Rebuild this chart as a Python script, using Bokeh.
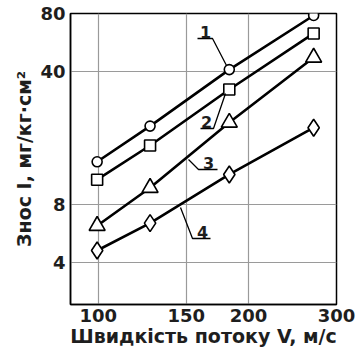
import math
from bokeh.plotting import figure
from bokeh.models import FixedTicker, PrintfTickFormatter
from bokeh.core.properties import value
from bokeh.embed import file_html
from bokeh.resources import INLINE

# ---- data ----
velocity = [99.5, 127, 183, 270]          # V, m/s
wear_1 = [13.4, 20.6, 40.7, 78.1]
wear_2 = [10.8, 16.3, 32.0, 62.9]
wear_3 = [6.2, 9.8, 21.5, 47.1]
wear_4 = [4.6, 6.4, 11.5, 20.2]
x_ticks = [100, 150, 200, 300]
y_ticks = [4, 8, 40, 80]
series_labels = ["1", "2", "3", "4"]

X0, X1 = 88, 300
Y0, Y1 = 2.4, 80
FONT = "DejaVu Sans"
TXT = "#1e1e1e"

p = figure(frame_width=266, frame_height=291, x_axis_type="log", y_axis_type="log",
           x_range=(X0, X1), y_range=(Y0, Y1),
           output_backend="svg", toolbar_location=None,
           min_border_left=70, min_border_right=20,
           min_border_top=13, min_border_bottom=46)

p.outline_line_color = "black"
p.outline_line_width = 1.5
p.background_fill_color = "white"
p.border_fill_color = "white"

for ax, ticks in ((p.xaxis, x_ticks), (p.yaxis, y_ticks)):
    ax.ticker = FixedTicker(ticks=ticks)
    ax.formatter = PrintfTickFormatter(format="%d")
    ax.major_tick_out = 0
    ax.major_tick_in = 0
    ax.minor_tick_out = 0
    ax.minor_tick_in = 0
    ax.axis_line_color = "black"
    ax.axis_line_width = 1.5
    ax.major_label_text_font = FONT
    ax.major_label_text_font_style = "bold"
    ax.major_label_text_font_size = "18px"
    ax.major_label_text_color = TXT
    ax.axis_label_text_font = FONT
    ax.axis_label_text_font_style = "bold"
    ax.axis_label_text_color = TXT

p.xaxis.axis_label = "Швидкість потоку V, м/с"
p.yaxis.axis_label = "Знос I, мг/кг·см²"
p.xaxis.axis_label_text_font_size = "19px"
p.yaxis.axis_label_text_font_size = "19px"
p.xaxis.major_label_standoff = 4
p.yaxis.major_label_standoff = 5
p.xaxis.axis_label_standoff = 0
p.yaxis.axis_label_standoff = 2

p.xgrid.ticker = FixedTicker(ticks=x_ticks)
p.ygrid.ticker = FixedTicker(ticks=y_ticks)
for g in (p.xgrid, p.ygrid):
    g.grid_line_color = "#9a9a9a"
    g.grid_line_width = 1.2
    g.minor_grid_line_color = None

LW = 2.6
for ys in (wear_1, wear_2, wear_3, wear_4):
    p.line(velocity, ys, line_color="black", line_width=LW)

mk = dict(fill_color="white", line_color="black", line_width=1.6)
p.scatter(velocity, wear_1, marker="circle", size=10, **mk)
p.scatter(velocity, wear_2, marker="square", size=11, **mk)
p.scatter(velocity, wear_3, marker="triangle", size=16, **mk)
p.scatter(velocity, wear_4, marker="diamond", size=17, **mk)

# ---- callout labels (positions given in reference frame pixels) ----
FL, FR, FT, FB = 70, 336, 13, 304
def dx(px):
    return math.exp(math.log(X0) + (px - FL) / (FR - FL) * (math.log(X1) - math.log(X0)))
def dy(py):
    return math.exp(math.log(Y1) - (py - FT) / (FB - FT) * (math.log(Y1) - math.log(Y0)))

callouts = [
    ([(226, 65), (212, 38), (197, 38)], (205, 37)),
    ([(225, 93), (213, 128), (200, 128)], (206, 127)),
    ([(188, 159), (198, 169), (217, 169)], (208, 168)),
    ([(180, 207), (192, 238), (210, 238)], (202, 237)),
]
for lab, (pts, tpos) in zip(series_labels, callouts):
    p.line([dx(a) for a, b in pts], [dy(b) for a, b in pts],
           line_color="black", line_width=1.3)
    p.text([dx(tpos[0])], [dy(tpos[1])], text=[lab], text_align="center",
           text_baseline="bottom", text_font=value(FONT),
           text_font_style="bold", text_font_size="16px", text_color=TXT)

open("out.html", "w").write(file_html(p, INLINE))
